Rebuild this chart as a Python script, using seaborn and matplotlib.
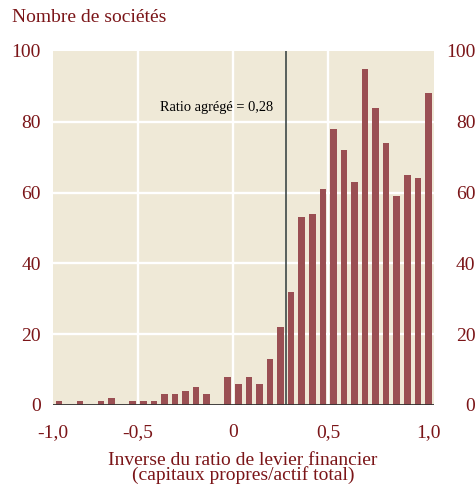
import seaborn as sns
import matplotlib.pyplot as plt
import pandas as pd

# bin centres (bins are 1/18 wide) and number of firms in each bin
bin_centres = [-0.917, -0.861, -0.806, -0.750, -0.694, -0.639, -0.583, -0.528,
               -0.472, -0.417, -0.361, -0.306, -0.250, -0.194, -0.139, -0.083,
               -0.028, 0.028, 0.083, 0.139, 0.194, 0.250, 0.306, 0.361,
               0.417, 0.472, 0.528, 0.583, 0.639, 0.694, 0.750, 0.806,
               0.861, 0.917, 0.972, 1.028]
nb_societes = [1, 0, 1, 0, 1, 2, 0, 1,
               1, 1, 3, 3, 4, 5, 3, 0,
               8, 6, 8, 6, 13, 22, 32, 53,
               54, 61, 78, 72, 63, 95, 84, 74,
               59, 65, 64, 88]
ratio_agrege = 0.28

xtick_pos = [-0.947, -0.5, 0, 0.5, 1.03]
xtick_labels = ["-1,0", "-0,5", "0", "0,5", "1,0"]
yticks = [0, 20, 40, 60, 80, 100]

df = pd.DataFrame({"x": bin_centres, "n": nb_societes})

sns.set_style("white", {"axes.facecolor": "#efe9d7"})
plt.rcParams["font.family"] = ["Liberation Serif", "DejaVu Serif"]

red = "#7b1518"
bar_col = "#9a4f53"

fig = plt.figure(figsize=(4.77, 4.87), dpi=100)
ax = fig.add_axes([0.1105, 0.1684, 0.8000, 0.7269])

# white grid behind the bars
for g in [20, 40, 60, 80]:
    ax.axhline(g, color="white", lw=1.7, zorder=0)
for g in [-0.5, 0, 0.5]:
    ax.axvline(g, color="white", lw=1.7, zorder=0)

sns.barplot(data=df, x="x", y="n", native_scale=True, width=0.62,
            color=bar_col, saturation=1, edgecolor="none", ax=ax, zorder=2)

ax.axhline(0, color="#333333", lw=1.3, zorder=3)
ax.axvline(ratio_agrege, color="#2f3b3b", lw=1.1, zorder=3)
ax.text(ratio_agrege - 0.07, 84, "Ratio agrégé = 0,28", ha="right", va="center",
        fontsize=10.4, color="black", zorder=4)

ax.set_xlim(-0.949, 1.059)
ax.set_ylim(0, 99)
for s in ax.spines.values():
    s.set_visible(False)

ax.set_xticks(xtick_pos)
ax.set_xticklabels(xtick_labels)
ax.set_yticks(yticks)
ax.set_yticklabels([str(v) for v in yticks])
ax.tick_params(axis="x", length=0, pad=14, labelsize=14, labelcolor=red)
ax.tick_params(axis="y", length=0, pad=8.5, labelsize=14, labelcolor=red)
ax.set_xlabel("")
ax.set_ylabel("")

ax2 = ax.twinx()
ax2.set_ylim(0, 99)
ax2.set_yticks(yticks)
ax2.set_yticklabels([str(v) for v in yticks])
ax2.tick_params(axis="y", length=0, pad=29.5, labelsize=14, labelcolor=red)
for lab in ax2.get_yticklabels():
    lab.set_horizontalalignment("right")
for s in ax2.spines.values():
    s.set_visible(False)

fig.text(12 / 477, 1 - 18 / 487, "Nombre de sociétés", ha="left", va="center",
         fontsize=14, color=red)
fig.text(243 / 477, 1 - 468 / 487,
         "Inverse du ratio de levier financier\n(capitaux propres/actif total)",
         ha="center", va="center", ma="center", fontsize=14, color=red,
         linespacing=0.85)

fig.savefig("out.png", dpi=100)
